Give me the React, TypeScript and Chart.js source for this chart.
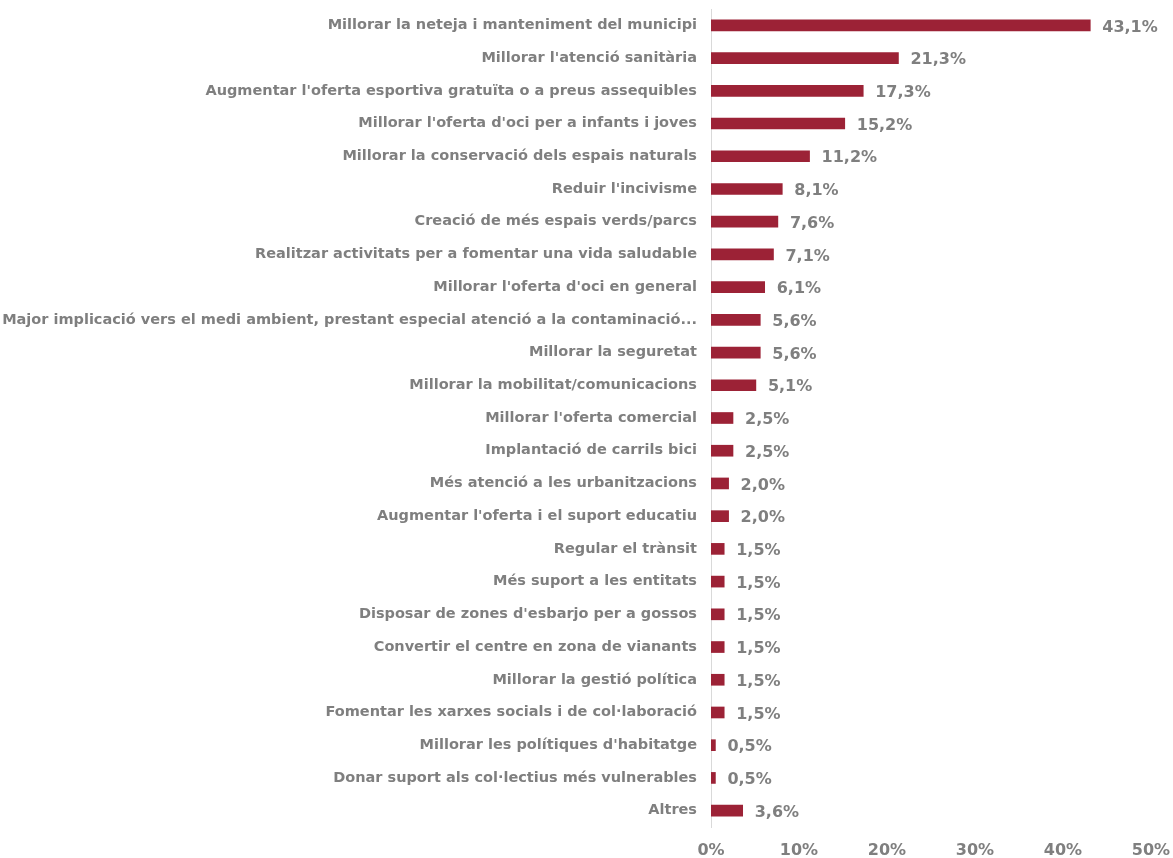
import React, { useEffect, useRef } from "react";
import { Chart, registerables } from "chart.js";

Chart.register(...registerables);

const categories: string[] = [
  "Millorar la neteja i manteniment del municipi",
  "Millorar l'atenció sanitària",
  "Augmentar l'oferta esportiva gratuïta o a preus assequibles",
  "Millorar l'oferta d'oci per a infants i joves",
  "Millorar la conservació dels espais naturals",
  "Reduir l'incivisme",
  "Creació de més espais verds/parcs",
  "Realitzar activitats per a fomentar una vida saludable",
  "Millorar l'oferta d'oci en general",
  "Major implicació vers el medi ambient, prestant especial atenció a la contaminació...",
  "Millorar la seguretat",
  "Millorar la mobilitat/comunicacions",
  "Millorar l'oferta comercial",
  "Implantació de carrils bici",
  "Més atenció a les urbanitzacions",
  "Augmentar l'oferta i el suport educatiu",
  "Regular el trànsit",
  "Més suport a les entitats",
  "Disposar de zones d'esbarjo per a gossos",
  "Convertir el centre en zona de vianants",
  "Millorar la gestió política",
  "Fomentar les xarxes socials i de col·laboració",
  "Millorar les polítiques d'habitatge",
  "Donar suport als col·lectius més vulnerables",
  "Altres",
];

const values: number[] = [
  43.1, 21.3, 17.3, 15.2, 11.2, 8.1, 7.6, 7.1, 6.1, 5.6, 5.6, 5.1, 2.5, 2.5,
  2.0, 2.0, 1.5, 1.5, 1.5, 1.5, 1.5, 1.5, 0.5, 0.5, 3.6,
];

const xMin = 0;
const xMax = 50;
const xStep = 10;

const BAR_COLOR = "#9C2236";
const TEXT_COLOR = "#7F7F7F";
const FONT_FAMILY = "'DejaVu Sans', sans-serif";

const fmt = (v: number) => v.toFixed(1).replace(".", ",") + "%";

const valueLabels = {
  id: "valueLabels",
  afterDatasetsDraw(chart: any) {
    const ctx = chart.ctx;
    const meta = chart.getDatasetMeta(0);
    ctx.save();
    ctx.font = `bold 16px ${FONT_FAMILY}`;
    ctx.fillStyle = TEXT_COLOR;
    ctx.textAlign = "left";
    ctx.textBaseline = "middle";
    meta.data.forEach((el: any, i: number) => {
      ctx.fillText(fmt(values[i]), el.x + 12, el.y + 2);
    });
    ctx.restore();
  },
};

export default function App() {
  const ref = useRef<HTMLCanvasElement | null>(null);

  useEffect(() => {
    if (!ref.current) return;
    const chart = new Chart(ref.current, {
      type: "bar",
      data: {
        labels: categories,
        datasets: [
          {
            data: values,
            backgroundColor: BAR_COLOR,
            borderWidth: 0,
            barThickness: 11,
          },
        ],
      },
      options: {
        indexAxis: "y",
        animation: false,
        responsive: true,
        maintainAspectRatio: false,
        layout: { padding: { top: 9, right: 22, left: 0, bottom: 0 } },
        plugins: {
          legend: { display: false },
          tooltip: { enabled: false },
        },
        scales: {
          x: {
            min: xMin,
            max: xMax,
            grid: { display: false, drawTicks: false },
            border: { display: false },
            ticks: {
              stepSize: xStep,
              padding: 14,
              color: TEXT_COLOR,
              font: { family: FONT_FAMILY, size: 16, weight: "bold" },
              callback: (v: any) => `${v}%`,
            },
            afterFit: (scale: any) => {
              scale.height = 31;
              scale.paddingLeft = 0;
              scale.paddingRight = 0;
            },
          },
          y: {
            grid: { display: false, drawTicks: false },
            border: { display: true, color: "#D9D9D9", width: 1 },
            ticks: {
              padding: 14,
              color: TEXT_COLOR,
              autoSkip: false,
              font: { family: FONT_FAMILY, size: 14.5, weight: "bold" },
            },
            afterFit: (scale: any) => {
              scale.width = 711;
              scale.paddingTop = 0;
              scale.paddingBottom = 0;
            },
          },
        },
      },
      plugins: [valueLabels],
    });
    return () => chart.destroy();
  }, []);

  return (
    <div style={{ position: "fixed", left: 0, top: 0, width: 1173, height: 858, background: "#fff" }}>
      <canvas ref={ref} />
    </div>
  );
}
